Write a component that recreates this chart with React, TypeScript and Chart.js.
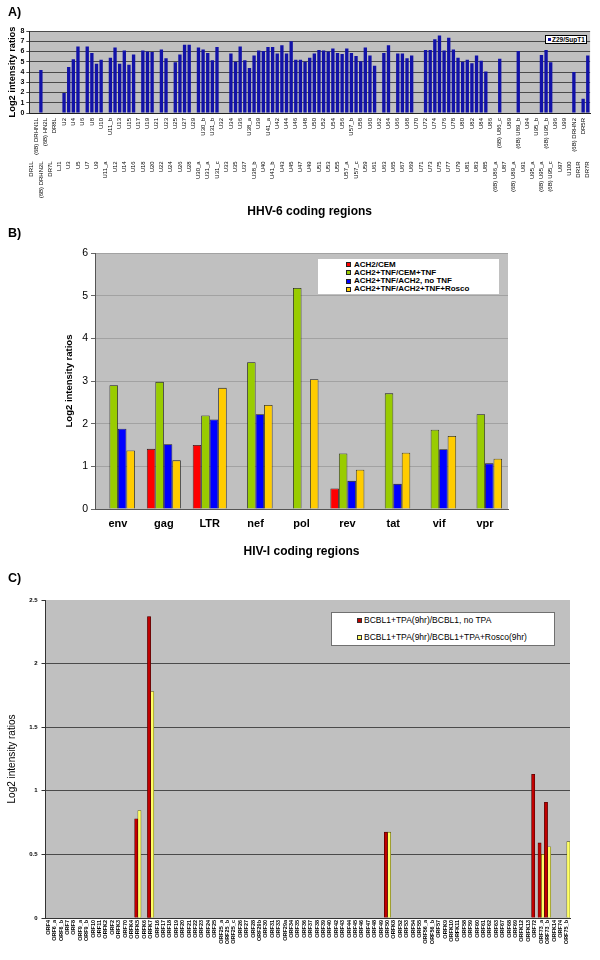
import React, { useEffect, useRef } from 'react';
import { Chart, registerables } from 'chart.js';

Chart.register(...registerables);

const FONT = "'Liberation Sans', Arial, Helvetica, sans-serif";

// ---------------- Panel A: HHV-6 ----------------
const A_LABELS = [
  'DR1L', '(6B) DRHN1L', '(6B) DRHN2L', '(6B) HN2L', 'DR7L', 'DR8L', 'LJ1', 'U2', 'U3', 'U4',
  'U5', 'U6', 'U7', 'U8', 'U9', 'U10', 'U11_a', 'U11_b', 'U12', 'U13',
  'U14', 'U15', 'U16', 'U17', 'U18', 'U19', 'U20', 'U21', 'U22', 'U23',
  'U24', 'U25', 'U26', 'U27', 'U28', 'U29', 'U30_a', 'U30_b', 'U31_a', 'U31_b',
  'U31_c', 'U32', 'U33', 'U34', 'U35', 'U36', 'U37', 'U38_a', 'U38_b', 'U39',
  'U40', 'U41_a', 'U41_b', 'U42', 'U43', 'U44', 'U45', 'U46', 'U47', 'U48',
  'U49', 'U50', 'U51', 'U52', 'U53', 'U54', 'U55', 'U56', 'U57_a', 'U57_b',
  'U57_c', 'U58', 'U59', 'U60', 'U61', 'U62', 'U63', 'U64', 'U65', 'U66',
  'U67', 'U68', 'U69', 'U70', 'U71', 'U72', 'U73', 'U74', 'U75', 'U76',
  'U77', 'U78', 'U79', 'U80', 'U81', 'U82', 'U83', 'U84', 'U85', 'U86',
  '(6B) U86_a', '(6B) U86_c', 'U87', 'U89', '(6B) U89_a', '(6B) U89_b', 'U91', 'U94', 'U95_a', 'U95_b',
  '(6B) U95_a', '(6B) U95_b', '(6B) U95_c', 'U96', 'U97', 'U99', 'U100', '(6B) DRHN2', 'DR1R', 'DR5R',
  'DR7R',
];
const A_VALUES = [
  null, null, 4.2, null, null, null, null, 1.95, 4.5, 5.25,
  6.5, null, 6.5, 5.85, 4.8, 5.2, null, 5.4, 6.4, 4.8,
  6.1, 4.7, 5.7, null, 6.1, 6.0, 5.95, null, 6.2, 5.35,
  null, 4.95, 5.7, 6.65, 6.65, null, 6.4, 6.2, 5.85, 5.15,
  6.45, null, null, 5.8, 5.0, 6.5, 5.15, 4.4, 5.6, 6.1,
  6.05, 6.45, 6.45, 5.8, 6.6, 5.8, 7.0, 5.2, 5.2, 5.0,
  5.4, 5.8, 6.15, 6.1, 6.0, 6.3, 5.85, 5.75, 6.3, 5.85,
  5.55, 5.05, 6.4, 5.6, 4.6, null, 5.85, 6.6, null, 5.8,
  5.8, 5.35, 5.6, null, null, 6.15, 6.15, 7.2, 7.55, 6.1,
  7.35, 6.2, 5.4, 5.0, 5.2, 4.85, 5.6, 5.1, 4.05, null,
  null, 5.3, null, null, null, 6.05, null, null, null, null,
  5.65, 6.15, 4.95, null, null, null, null, 4.0, null, 1.4,
  5.6,
];
const A_SERIES = 'Z29/SupT1';
const A_COLOR = '#1212a8';

// ---------------- Panel B: HIV-1 ----------------
const B_LABELS = ['env', 'gag', 'LTR', 'nef', 'pol', 'rev', 'tat', 'vif', 'vpr'];
const B_SERIES = ['ACH2/CEM', 'ACH2+TNF/CEM+TNF', 'ACH2+TNF/ACH2, no TNF', 'ACH2+TNF/ACH2+TNF+Rosco'];
const B_ACH2_CEM = [null, 1.41, 1.5, null, null, 0.48, null, null, null];
const B_TNF_CEM_TNF = [2.9, 2.98, 2.19, 3.44, 5.18, 1.3, 2.71, 1.86, 2.22];
const B_TNF_NO_TNF = [1.88, 1.52, 2.1, 2.22, null, 0.66, 0.59, 1.4, 1.07];
const B_TNF_ROSCO = [1.37, 1.14, 2.84, 2.44, 3.04, 0.92, 1.32, 1.71, 1.18];
const B_COLORS = ['#ff0000', '#99cc00', '#0000ff', '#ffcc00'];

// ---------------- Panel C: KSHV ----------------
const C_LABELS = [
  'ORF4', 'ORF6_a', 'ORF6_b', 'ORF7', 'ORF8', 'ORF9_a', 'ORF9_b', 'ORF10', 'ORF11', 'ORFK2',
  'ORF2', 'ORFK3', 'ORF70', 'ORFK4', 'ORFK5', 'ORFK6', 'ORFK7', 'ORF16', 'ORF17', 'ORF18',
  'ORF19', 'ORF20', 'ORF21', 'ORF22', 'ORF23', 'ORF24', 'ORF25', 'ORF25_a', 'ORF25_b', 'ORF25_c',
  'ORF26', 'ORF27', 'ORF28', 'ORF29b', 'ORF30', 'ORF31', 'ORF33', 'ORF29a', 'ORF34', 'ORF35',
  'ORF36', 'ORF37', 'ORF38', 'ORF39', 'ORF40', 'ORF42', 'ORF43', 'ORF44', 'ORF45', 'ORF46',
  'ORF47', 'ORF48', 'ORF49', 'ORF50', 'ORFK8', 'ORF52', 'ORF53', 'ORF54', 'ORF55', 'ORF56_a',
  'ORF56_b', 'ORF57', 'ORFK9', 'ORFK10', 'ORFK11', 'ORF58', 'ORF59', 'ORF60', 'ORF61', 'ORF62',
  'ORF63', 'ORF67', 'ORF68', 'ORF69', 'ORFK12', 'ORFK13', 'ORF72', 'ORF73_a', 'ORF73_b', 'ORFK14',
  'ORF74', 'ORF75_b',
];
const C_SERIES = ['BCBL1+TPA(9hr)/BCBL1, no TPA', 'BCBL1+TPA(9hr)/BCBL1+TPA+Rosco(9hr)'];
const C_NO_TPA: Record<string, number> = {
  ORFK5: 0.78, ORFK7: 2.37, ORF50: 0.675, ORF72: 1.13, ORF73_a: 0.59, ORF73_b: 0.91,
};
const C_ROSCO: Record<string, number> = {
  ORFK5: 0.845, ORFK7: 1.78, ORF50: 0.675, ORF73_a: 0.5, ORF73_b: 0.56, ORF75_b: 0.6,
};
const C_COLORS = ['#c00000', '#ffff66'];

// ---------------- helpers ----------------
const plotBg = {
  id: 'plotBg',
  beforeDraw(chart: any, _args: any, opts: any) {
    const { ctx, chartArea } = chart;
    if (!chartArea) return;
    ctx.save();
    ctx.fillStyle = opts.color || '#c0c0c0';
    ctx.fillRect(chartArea.left, chartArea.top, chartArea.right - chartArea.left, chartArea.bottom - chartArea.top);
    ctx.restore();
  },
};

const STAGGER = ' '.repeat(26);

function configA(): any {
  return {
    type: 'bar',
    data: {
      labels: A_LABELS,
      datasets: [
        {
          label: A_SERIES,
          data: A_VALUES,
          backgroundColor: A_COLOR,
          borderColor: '#000060',
          borderWidth: 0,
          barPercentage: 0.72,
          categoryPercentage: 1,
        },
      ],
    },
    plugins: [plotBg],
    options: {
      responsive: false,
      animation: false,
      devicePixelRatio: 1,
      layout: { padding: { left: 3, right: 4, top: 31, bottom: 0 } },
      plugins: { legend: { display: false }, tooltip: { enabled: false }, plotBg: { color: '#c0c0c0' } },
      scales: {
        x: {
          grid: { display: false, drawTicks: false },
          border: { display: true, color: '#222', width: 1 },
          ticks: {
            autoSkip: false,
            minRotation: 90,
            maxRotation: 90,
            padding: 5,
            color: '#000',
            font: { family: FONT, size: 6 },
            callback: (_v: any, i: number) => (i % 2 === 0 ? A_LABELS[i] + STAGGER : A_LABELS[i]),
          },
          title: {
            display: true,
            text: 'HHV-6 coding regions',
            color: '#000',
            font: { family: FONT, size: 12, weight: 'bold' },
            padding: { top: 0, bottom: 3 },
          },
          afterFit: (s: any) => { s.height = 109; },
        },
        y: {
          min: 0,
          max: 8,
          ticks: {
            stepSize: 1,
            autoSkip: false,
            color: '#000',
            padding: 2,
            font: { family: FONT, size: 7, weight: 'bold' },
          },
          grid: { color: '#4a4a4a', lineWidth: 1, tickLength: 3, drawTicks: true },
          border: { display: true, color: '#222', width: 1 },
          title: {
            display: true,
            text: 'Log2 intensity ratios',
            color: '#000',
            font: { family: FONT, size: 9.3, weight: 'bold' },
            padding: { top: 4, bottom: 0 },
          },
          afterFit: (s: any) => { s.width = 26.3; },
        },
      },
    },
  };
}

function configB(): any {
  const series = [B_ACH2_CEM, B_TNF_CEM_TNF, B_TNF_NO_TNF, B_TNF_ROSCO];
  return {
    type: 'bar',
    data: {
      labels: B_LABELS,
      datasets: series.map((d, k) => ({
        label: B_SERIES[k],
        data: d,
        backgroundColor: B_COLORS[k],
        borderColor: '#1a1a1a',
        borderWidth: 0.8,
        barPercentage: 1,
        categoryPercentage: 0.74,
      })),
    },
    plugins: [plotBg],
    options: {
      responsive: false,
      animation: false,
      devicePixelRatio: 1,
      layout: { padding: { left: 59.5, right: 92, top: 25, bottom: 0 } },
      plugins: { legend: { display: false }, tooltip: { enabled: false }, plotBg: { color: '#c0c0c0' } },
      scales: {
        x: {
          grid: { display: false, drawTicks: false },
          border: { display: true, color: '#555', width: 1 },
          ticks: { padding: 8, color: '#000', font: { family: FONT, size: 11, weight: 'bold' } },
          title: {
            display: true,
            text: 'HIV-I coding regions',
            color: '#000',
            font: { family: FONT, size: 12, weight: 'bold' },
            padding: { top: 0, bottom: 4.8 },
          },
          afterFit: (s: any) => { s.height = 55; },
        },
        y: {
          min: 0,
          max: 6,
          ticks: { stepSize: 1, autoSkip: false, color: '#000', padding: 3, font: { family: FONT, size: 10.5 } },
          grid: { color: '#a2a2a2', lineWidth: 1, tickLength: 4, tickColor: '#666' },
          border: { display: true, color: '#555', width: 1 },
          title: {
            display: true,
            text: 'Log2 intensity ratios',
            color: '#000',
            font: { family: FONT, size: 9.5, weight: 'bold' },
            padding: { top: 4, bottom: 0 },
          },
          afterFit: (s: any) => { s.width = 35.5; },
        },
      },
    },
  };
}

function configC(): any {
  const red = C_LABELS.map((l) => (l in C_NO_TPA ? C_NO_TPA[l] : null));
  const yellow = C_LABELS.map((l) => (l in C_ROSCO ? C_ROSCO[l] : null));
  return {
    type: 'bar',
    data: {
      labels: C_LABELS,
      datasets: [
        { label: C_SERIES[0], data: red, backgroundColor: C_COLORS[0], borderColor: '#3a0000', borderWidth: 0.6, barPercentage: 1, categoryPercentage: 1 },
        { label: C_SERIES[1], data: yellow, backgroundColor: C_COLORS[1], borderColor: '#4d4d00', borderWidth: 0.6, barPercentage: 1, categoryPercentage: 1 },
      ],
    },
    plugins: [plotBg],
    options: {
      responsive: false,
      animation: false,
      devicePixelRatio: 1,
      layout: { padding: { left: 2.5, right: 30, top: 35, bottom: 0 } },
      plugins: { legend: { display: false }, tooltip: { enabled: false }, plotBg: { color: '#c0c0c0' } },
      scales: {
        x: {
          grid: { display: false, drawTicks: false },
          border: { display: true, color: '#333', width: 1 },
          ticks: {
            autoSkip: false,
            minRotation: 90,
            maxRotation: 90,
            padding: 2,
            color: '#000',
            font: { family: FONT, size: 5.5, weight: 'bold' },
          },
          afterFit: (s: any) => { s.height = 42; },
        },
        y: {
          min: 0,
          max: 2.5,
          ticks: {
            stepSize: 0.5,
            autoSkip: false,
            color: '#000',
            padding: 4,
            font: { family: FONT, size: 6, weight: 'bold' },
            callback: (v: any) => String(Math.round(Number(v) * 10) / 10),
          },
          grid: {
            color: (c: any) => (c.tick && c.tick.value === 2.5 ? 'rgba(0,0,0,0)' : '#4a4a4a'),
            tickColor: '#333',
            lineWidth: 1,
            tickLength: 3.5,
          },
          border: { display: true, color: '#333', width: 1 },
          title: {
            display: true,
            text: 'Log2 intensity ratios',
            color: '#000',
            font: { family: FONT, size: 10 },
            padding: { top: 4, bottom: 0 },
          },
          afterFit: (s: any) => { s.width = 42.5; },
        },
      },
    },
  };
}

function ChartCanvas({ top, height, make }: { top: number; height: number; make: () => any }) {
  const ref = useRef<HTMLCanvasElement | null>(null);
  useEffect(() => {
    const chart = new Chart(ref.current as HTMLCanvasElement, make());
    return () => chart.destroy();
  }, []);
  return (
    <canvas
      ref={ref}
      width={600}
      height={height}
      style={{ position: 'absolute', left: 0, top, width: 600, height, display: 'block' }}
    />
  );
}

const txt = (extra: React.CSSProperties): React.CSSProperties => ({
  position: 'absolute',
  fontFamily: FONT,
  color: '#000',
  whiteSpace: 'nowrap',
  ...extra,
});

export default function App() {
  const bRows = [264.5, 272.8, 281, 289.3];
  const cRows = [620.7, 637.7];
  return (
    <div style={{ position: 'absolute', left: 0, top: 0, width: 600, height: 960, background: '#fff', overflow: 'hidden' }}>
      <ChartCanvas top={0} height={222} make={configA} />
      <ChartCanvas top={228} height={336} make={configB} />
      <ChartCanvas top={565} height={395} make={configC} />

      <div style={txt({ left: 8, top: 5, fontSize: 12.5, fontWeight: 'bold', lineHeight: '14px' })}>A)</div>
      <div style={txt({ left: 8, top: 226, fontSize: 12.5, fontWeight: 'bold', lineHeight: '14px' })}>B)</div>
      <div style={txt({ left: 8, top: 571, fontSize: 12.5, fontWeight: 'bold', lineHeight: '14px' })}>C)</div>

      {/* Panel A legend */}
      <div
        style={{
          position: 'absolute', left: 545, top: 35, width: 42, height: 8.5, background: '#fff',
          border: '1px solid #000', boxSizing: 'border-box',
        }}
      >
        <div style={{ position: 'absolute', left: 1.5, top: 1.5, width: 3.5, height: 3.5, background: A_COLOR }} />
        <div style={txt({ left: 6, top: -0.5, fontSize: 6.5, fontWeight: 'bold', lineHeight: '7px' })}>{A_SERIES}</div>
      </div>

      {/* Panel B legend */}
      <div style={{ position: 'absolute', left: 318, top: 259, width: 181, height: 35, background: '#fff' }} />
      {B_SERIES.map((s, k) => (
        <React.Fragment key={s}>
          <div
            style={{
              position: 'absolute', left: 346, top: bRows[k] - 2.5, width: 5, height: 5,
              background: B_COLORS[k], border: '0.5px solid #222', boxSizing: 'border-box',
            }}
          />
          <div style={txt({ left: 354, top: bRows[k] - 5, fontSize: 8, fontWeight: 'bold', lineHeight: '10px' })}>{s}</div>
        </React.Fragment>
      ))}

      {/* Panel C legend */}
      <div
        style={{
          position: 'absolute', left: 331, top: 612, width: 224, height: 34, background: '#fff',
          border: '1px solid #707070', boxSizing: 'border-box',
        }}
      />
      {C_SERIES.map((s, k) => (
        <React.Fragment key={s}>
          <div
            style={{
              position: 'absolute', left: 357, top: cRows[k] - 2.5, width: 5, height: 5,
              background: C_COLORS[k], border: '0.6px solid #333', boxSizing: 'border-box',
            }}
          />
          <div style={txt({ left: 364, top: cRows[k] - 5.5, fontSize: 8.5, lineHeight: '11px' })}>{s}</div>
        </React.Fragment>
      ))}
    </div>
  );
}
